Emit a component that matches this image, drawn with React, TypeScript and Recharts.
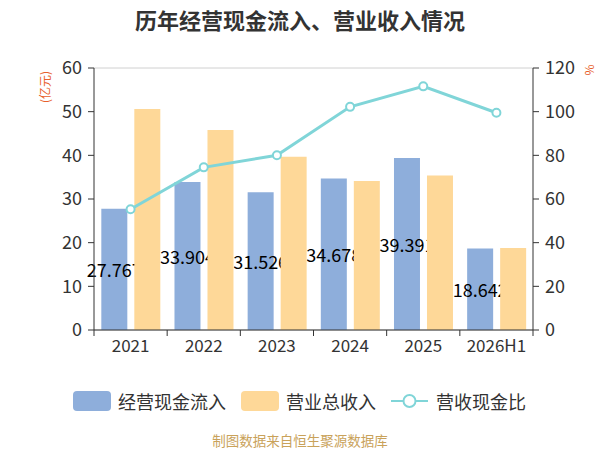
import { Bar, CartesianGrid, ComposedChart, Line, Rectangle, XAxis, YAxis } from "recharts";

const years = ["2021", "2022", "2023", "2024", "2025", "2026H1"];
const cashInflow = [27.767, 33.904, 31.526, 34.678, 39.391, 18.642];
const revenue = [50.6, 45.8, 39.7, 34.1, 35.4, 18.8];
const cashRatio = [55.3, 74.5, 80.0, 102.2, 111.6, 99.5];
const leftTicks = [0, 10, 20, 30, 40, 50, 60];
const rightTicks = [0, 20, 40, 60, 80, 100, 120];

const font = '"Noto Sans CJK SC", "Noto Sans", sans-serif';
const blue = "#8eaedb";
const yellow = "#fed898";
const teal = "#80d5d8";
const axisColor = "#333";

const data = years.map((year, i) => ({
  year,
  cash: cashInflow[i],
  revenue: revenue[i],
  ratio: cashRatio[i],
}));

function BandTick(props: any) {
  const { x, y, payload, index } = props;
  const half = payload.offset ?? 0;
  return (
    <g>
      <line x1={x - half} x2={x - half} y1={y - 8} y2={y - 2} stroke={axisColor} />
      {index === years.length - 1 && (
        <line x1={x + half} x2={x + half} y1={y - 8} y2={y - 2} stroke={axisColor} />
      )}
      <text x={x} y={y + 14} textAnchor="middle" fill={axisColor} fontSize={17} fontFamily={font}>
        {payload.value}
      </text>
    </g>
  );
}

// label drawn with the bar so the next series paints over it, like the original
function CashBar(props: any) {
  const { x, y, width, height, value } = props;
  const v = Array.isArray(value) ? value[1] : value;
  return (
    <g>
      <Rectangle x={x} y={y} width={width} height={height} fill={blue} />
      <text x={x + width / 2} y={y + height / 2} textAnchor="middle" dominantBaseline="central" fill="#000" fontSize={18} fontFamily={font}>
        {Number(v).toFixed(3)}
      </text>
    </g>
  );
}

function LegendItem({ kind, color, label }: { kind: "bar" | "line"; color: string; label: string }) {
  return (
    <span style={{ display: "inline-flex", alignItems: "center", marginRight: 15 }}>
      {kind === "bar"
        ? <i style={{ display: "inline-block", width: 38, height: 20, borderRadius: 4, background: color, marginRight: 7 }} />
        : (
          <svg width={37} height={20} style={{ marginRight: 8 }}>
            <line x1={0} x2={37} y1={10} y2={10} stroke={color} strokeWidth={2} />
            <circle cx={18.5} cy={10} r={6} fill="#fff" stroke={color} strokeWidth={2} />
          </svg>
        )}
      <span>{label}</span>
    </span>
  );
}

export default function App() {
  return (
    <div style={{ position: "absolute", left: 0, top: 0, width: 600, height: 450, background: "#fff", fontFamily: font }}>
      <div style={{ position: "absolute", top: 3, left: 0, width: 600, textAlign: "center", fontSize: 22, fontWeight: 700, color: "#333" }}>
        历年经营现金流入、营业收入情况
      </div>
      <ComposedChart
        width={600}
        height={450}
        data={data}
        margin={{ top: 68, right: 7, left: 30, bottom: 90 }}
        barGap={7}
        barCategoryGap="10%"
      >
        <CartesianGrid vertical={false} stroke="#d0d0d0" />
        <XAxis dataKey="year" axisLine={{ stroke: axisColor }} tickLine={false} height={30} tick={<BandTick />} interval={0} />
        <YAxis
          yAxisId="left"
          domain={[0, 60]}
          ticks={leftTicks}
          width={64}
          axisLine={{ stroke: axisColor }}
          tickLine={{ stroke: axisColor }}
          tickSize={6}
          tickMargin={6}
          tick={{ fill: axisColor, fontSize: 18, fontFamily: font }}
          label={({ viewBox }: any) => (
            <text x={viewBox.x + 17} y={87} textAnchor="middle" dominantBaseline="middle" transform={`rotate(-90, ${viewBox.x + 17}, 87)`} fill="#e8602c" fontSize={12} fontFamily={font}>
              (亿元)
            </text>
          )}
        />
        <YAxis
          yAxisId="right"
          orientation="right"
          domain={[0, 120]}
          ticks={rightTicks}
          width={60}
          axisLine={{ stroke: axisColor }}
          tickLine={{ stroke: axisColor }}
          tickSize={6}
          tickMargin={6}
          tick={{ fill: axisColor, fontSize: 18, fontFamily: font }}
          label={({ viewBox }: any) => (
            <text x={viewBox.x + 58} y={70} textAnchor="middle" dominantBaseline="middle" transform={`rotate(-90, ${viewBox.x + 58}, 70)`} fill="#e8602c" fontSize={12} fontFamily={font}>
              %
            </text>
          )}
        />
        <Bar yAxisId="left" dataKey="cash" name="经营现金流入" fill={blue} shape={<CashBar />} isAnimationActive={false} />
        <Bar yAxisId="left" dataKey="revenue" name="营业总收入" fill={yellow} isAnimationActive={false} />
        <Line
          yAxisId="right"
          dataKey="ratio"
          name="营收现金比"
          stroke={teal}
          strokeWidth={3}
          dot={{ r: 4, fill: "#fff", stroke: teal, strokeWidth: 2 }}
          isAnimationActive={false}
        />
      </ComposedChart>
      <div style={{ position: "absolute", top: 390, left: 73, fontSize: 18, lineHeight: "22px", color: "#333", display: "flex", alignItems: "center", whiteSpace: "nowrap" }}>
        <LegendItem kind="bar" color={blue} label="经营现金流入" />
        <LegendItem kind="bar" color={yellow} label="营业总收入" />
        <LegendItem kind="line" color={teal} label="营收现金比" />
      </div>
      <div style={{ position: "absolute", top: 432, left: 0, width: 600, textAlign: "center", fontSize: 13.5, lineHeight: "16px", color: "#c9a25a" }}>
        制图数据来自恒生聚源数据库
      </div>
    </div>
  );
}
